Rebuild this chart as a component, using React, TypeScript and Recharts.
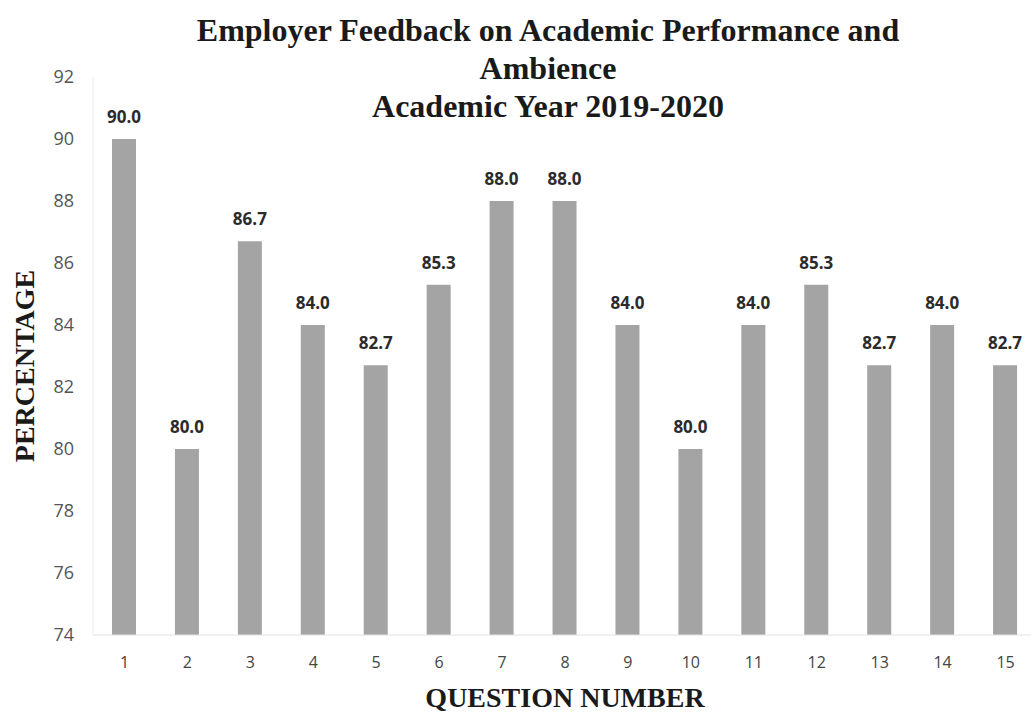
import { BarChart, Bar, XAxis, YAxis, LabelList, Label } from "recharts";

const questions = ["1", "2", "3", "4", "5", "6", "7", "8", "9", "10", "11", "12", "13", "14", "15"];
const percentages = [90.0, 80.0, 86.7, 84.0, 82.7, 85.3, 88.0, 88.0, 84.0, 80.0, 84.0, 85.3, 82.7, 84.0, 82.7];
const yTicks = [74, 76, 78, 80, 82, 84, 86, 88, 90, 92];
const titleLines = [
  "Employer Feedback on Academic Performance and",
  "Ambience",
  "Academic Year 2019-2020",
];

const data = questions.map((q, i) => ({ question: q, value: percentages[i] }));

const SERIF = "'Liberation Serif', 'Times New Roman', serif";
const SANS = "'Open Sans', 'Liberation Sans', sans-serif";

export default function App() {
  return (
    <div
      style={{
        position: "absolute",
        left: 0,
        top: 0,
        width: 1031,
        height: 714,
        overflow: "hidden",
        background: "#fff",
      }}
    >
      <BarChart
        width={1045}
        height={714}
        data={data}
        margin={{ top: 77, right: 8, bottom: 0, left: 0 }}
      >
        <XAxis
          dataKey="question"
          height={79}
          stroke="#e2e2e2"
          tickLine={false}
          tickSize={0}
          tickMargin={22}
          tick={{ fill: "#444", fontSize: 16, fontFamily: SANS }}
        >
          <Label
            value="QUESTION NUMBER"
            position="insideBottom"
            offset={7}
            style={{ fill: "#1a1a1a", fontSize: 28, fontWeight: "bold", fontFamily: SERIF }}
          />
        </XAxis>
        <YAxis
          width={93}
          domain={[74, 92]}
          ticks={yTicks}
          allowDataOverflow
          stroke="#ececec"
          tickLine={false}
          tickSize={0}
          tickMargin={19}
          tick={{ fill: "#555", fontSize: 18, fontFamily: SANS }}
        >
          <Label
            content={(props: any) => {
              const vb = props.viewBox || {};
              const cx = 24;
              const cy = (vb.y ?? 77) + (vb.height ?? 558) / 2 + 10;
              return (
                <text
                  x={cx}
                  y={cy}
                  transform={`rotate(-90 ${cx} ${cy})`}
                  textAnchor="middle"
                  dominantBaseline="central"
                  fill="#1a1a1a"
                  fontSize={28}
                  fontWeight="bold"
                  fontFamily={SERIF}
                >
                  PERCENTAGE
                </text>
              );
            }}
          />
        </YAxis>
        <Bar dataKey="value" fill="#a4a4a4" barSize={24} isAnimationActive={false}>
          <LabelList
            dataKey="value"
            position="top"
            offset={16}
            formatter={(v: any) => Number(v).toFixed(1)}
            style={{ fill: "#2b2b2b", fontSize: 17, fontWeight: "bold", fontFamily: SANS }}
          />
        </Bar>
      </BarChart>
      <svg
        width={1031}
        height={130}
        style={{ position: "absolute", left: 0, top: 0, pointerEvents: "none" }}
      >
        {titleLines.map((line, i) => (
          <text
            key={line}
            x={548}
            y={41 + i * 38}
            textAnchor="middle"
            fill="#1a1a1a"
            fontSize={32}
            fontWeight="bold"
            fontFamily={SERIF}
          >
            {line}
          </text>
        ))}
      </svg>
    </div>
  );
}
